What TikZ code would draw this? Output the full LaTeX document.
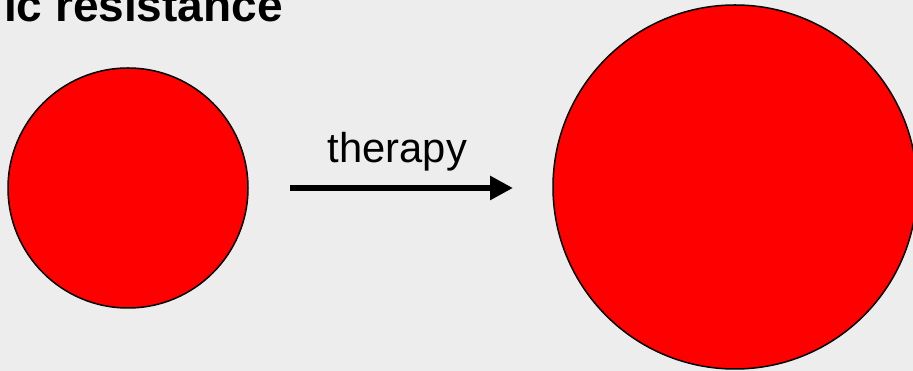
\documentclass[tikz,border=0pt]{standalone}
\usepackage{fontspec}
\setmainfont{Liberation Sans}
\usetikzlibrary{arrows.meta}
\definecolor{bg}{HTML}{EDEDED}
\definecolor{cellred}{HTML}{FF0000}
\begin{document}
\begin{tikzpicture}[x=1pt,y=1pt,
  cell/.style={circle,draw=black,line width=1.5pt,fill=cellred,inner sep=0pt},
  therarrow/.style={line width=6pt,-{Triangle[length=23pt,width=23pt]}},
  lbl/.style={inner sep=0pt,font=\fontsize{41.7}{50}\selectfont}]
\useasboundingbox (0,0) rectangle (913,371);
\clip (0,0) rectangle (913,371);
\fill[bg] (0,0) rectangle (913,371);
\node[anchor=base east,inner sep=0pt,font=\bfseries\fontsize{46}{55}\selectfont] (title) at (283,349) {ic resistance};
\node[cell,minimum size=240pt] (small) at (128,183) {};
\node[cell,minimum size=364pt] (big) at (735,184) {};
\coordinate (a1) at (290,183);
\coordinate (a2) at (513,183);
\draw[therarrow] (a1) -- (a2);
\node[lbl,anchor=base] (ther) at (397.5,208) {therapy};
\end{tikzpicture}
\end{document}
